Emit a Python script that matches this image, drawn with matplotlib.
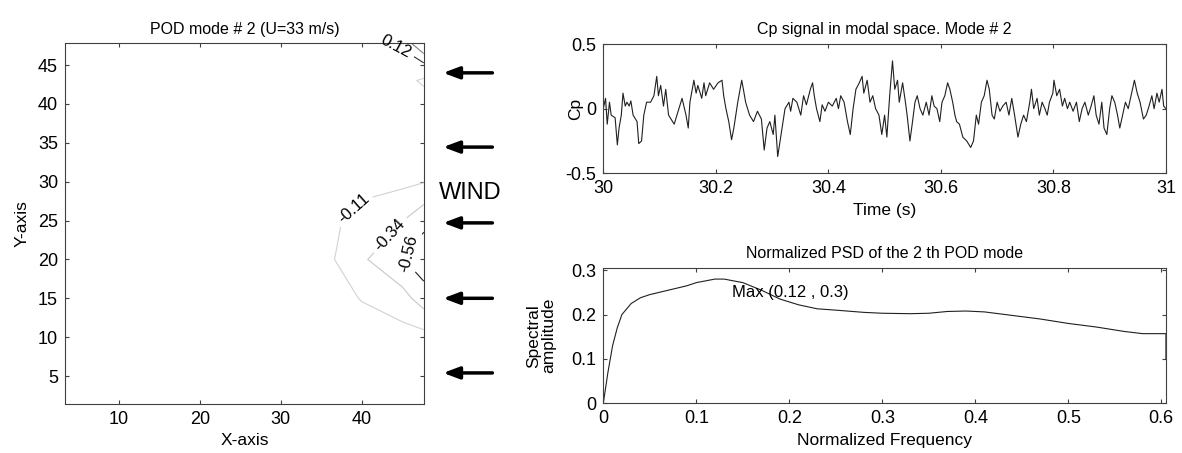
import matplotlib
matplotlib.use("Agg")
import matplotlib.pyplot as plt
import numpy as np

plt.rcParams["font.family"] = ["Liberation Sans", "DejaVu Sans"]
plt.rcParams["font.size"] = 12

# contour field of POD mode 2 (coarse grid)
grid_x = [3.4, 30, 35, 40, 45, 47.6]
grid_y = [1.44, 5, 10, 15, 20, 25, 30, 35, 40, 43, 45, 47.8]
mode_vals = [
    [0.0, 0.0, 0.0, 0.0, 0.0, 0.0],
    [0.0, 0.0, 0.0, 0.0, 0.0, 0.0],
    [0.0, 0.0, 0.0, -0.01, -0.02, -0.03],
    [0.0, 0.0, -0.01, -0.12, -0.25, -0.45],
    [0.0, 0.0, -0.02, -0.30, -0.55, -0.70],
    [0.0, 0.0, -0.02, -0.20, -0.33, -0.50],
    [0.0, 0.0, 0.0, -0.03, -0.06, -0.10],
    [0.0, 0.0, 0.0, 0.0, -0.01, -0.02],
    [0.0, 0.0, 0.0, 0.0, -0.01, -0.02],
    [0.0, 0.0, 0.0, 0.0, -0.05, -0.14],
    [0.0, 0.0, 0.0, 0.0, 0.0, 0.06],
    [0.0, 0.0, 0.0, 0.02, 0.16, 0.60],
]
levels = [-0.56, -0.335, -0.11, 0.115, 0.345]
level_colors = ["#202020", "#c8c8c8", "#d2d2d2", "#303030", "#808080"]
level_labels = {-0.56: "-0.56", -0.335: "-0.34", -0.11: "-0.11", 0.115: "0.12"}
label_pos = [(46.0, 20.5), (43.6, 23.0), (38.4, 27.1), (43.9, 46.9)]

arrow_y = [44.0, 34.45, 24.7, 15.0, 5.4]

# Cp signal, mode 2
t_off = [0.000, 0.004, 0.007, 0.011, 0.014, 0.021, 0.025, 0.028, 0.032, 0.035,
         0.039, 0.042, 0.046, 0.049, 0.053, 0.060, 0.063, 0.068, 0.072, 0.077,
         0.084, 0.090, 0.095, 0.098, 0.102, 0.107, 0.111, 0.116, 0.123, 0.126,
         0.133, 0.140, 0.147, 0.151, 0.154, 0.161, 0.165, 0.168, 0.175, 0.179,
         0.182, 0.189, 0.196, 0.204, 0.211, 0.214, 0.218, 0.223, 0.228, 0.232,
         0.239, 0.246, 0.249, 0.253, 0.260, 0.267, 0.274, 0.281, 0.286, 0.291,
         0.296, 0.302, 0.305, 0.310, 0.316, 0.323, 0.330, 0.333, 0.337, 0.344,
         0.351, 0.356, 0.361, 0.368, 0.372, 0.375, 0.379, 0.385, 0.389, 0.394,
         0.400, 0.407, 0.414, 0.418, 0.422, 0.428, 0.434, 0.439, 0.444, 0.449,
         0.455, 0.460, 0.463, 0.469, 0.474, 0.479, 0.484, 0.490, 0.495, 0.500,
         0.504, 0.509, 0.514, 0.518, 0.523, 0.526, 0.532, 0.537, 0.540, 0.545,
         0.549, 0.554, 0.558, 0.563, 0.568, 0.574, 0.579, 0.584, 0.588, 0.593,
         0.598, 0.602, 0.607, 0.612, 0.616, 0.621, 0.625, 0.628, 0.633, 0.639,
         0.646, 0.653, 0.658, 0.663, 0.667, 0.672, 0.677, 0.682, 0.686, 0.691,
         0.695, 0.700, 0.705, 0.710, 0.716, 0.721, 0.726, 0.731, 0.737, 0.742,
         0.747, 0.752, 0.758, 0.761, 0.765, 0.771, 0.775, 0.780, 0.785, 0.789,
         0.793, 0.799, 0.801, 0.806, 0.811, 0.816, 0.820, 0.825, 0.829, 0.835,
         0.841, 0.846, 0.851, 0.856, 0.862, 0.867, 0.872, 0.876, 0.881, 0.886,
         0.890, 0.895, 0.900, 0.904, 0.909, 0.914, 0.918, 0.923, 0.928, 0.933,
         0.939, 0.944, 0.949, 0.954, 0.960, 0.965, 0.970, 0.975, 0.979, 0.984,
         0.988, 0.993, 0.996, 1.000]
cp = [0.0, 0.08, -0.12, 0.05, -0.05, -0.07, -0.28, -0.15, -0.05, 0.12,
      0.02, 0.05, 0.02, 0.06, -0.05, -0.1, -0.27, -0.25, -0.05, 0.05,
      0.05, 0.1, 0.25, 0.1, 0.18, 0.02, 0.15, -0.05, -0.1, -0.12,
      -0.02, 0.08, -0.05, -0.15, 0.05, 0.22, 0.12, 0.18, 0.08, 0.2,
      0.1, 0.2, 0.15, 0.2, 0.22, 0.1, 0.0, -0.1, -0.24, -0.15,
      0.05, 0.22, 0.15, 0.05, -0.05, -0.1, -0.02, -0.08, -0.32, -0.15,
      -0.1, -0.2, -0.05, -0.37, -0.2, 0.0, 0.05, -0.02, 0.08, 0.05,
      -0.05, 0.1, 0.03, 0.15, 0.2, 0.1, 0.0, -0.1, 0.03, -0.02,
      0.05, 0.02, 0.08, 0.0, 0.1, 0.05, -0.1, -0.2, 0.0, 0.15,
      0.2, 0.25, 0.12, 0.22, 0.05, 0.1, 0.0, -0.05, -0.2, -0.05,
      -0.22, 0.1, 0.37, 0.15, 0.22, 0.05, 0.2, 0.05, -0.05, -0.25,
      -0.12, 0.05, 0.1, 0.0, -0.05, 0.05, -0.05, 0.1, 0.02, 0.0,
      -0.1, 0.05, 0.1, 0.2, 0.15, 0.05, -0.05, -0.1, -0.12, -0.22,
      -0.25, -0.3, -0.25, -0.05, -0.12, 0.05, 0.1, 0.22, 0.15, -0.05,
      -0.08, 0.05, -0.02, 0.02, 0.05, -0.05, 0.08, -0.05, -0.22, -0.12,
      -0.05, -0.1, 0.05, 0.15, 0.0, 0.08, -0.05, 0.05, 0.0, -0.05,
      0.05, 0.12, 0.22, 0.1, 0.15, 0.02, 0.08, 0.0, 0.05, -0.02,
      0.05, -0.1, 0.0, 0.05, -0.05, 0.02, 0.1, -0.05, -0.12, 0.05,
      -0.15, -0.2, 0.0, 0.1, 0.05, -0.05, -0.15, -0.05, 0.05, 0.0,
      0.12, 0.22, 0.12, 0.05, -0.08, -0.05, 0.02, 0.1, 0.0, 0.12,
      0.05, 0.15, 0.02, 0.0]

# normalized PSD
freq = [0.0, 0.005, 0.01, 0.015, 0.02, 0.03, 0.04, 0.05, 0.07, 0.09,
        0.10, 0.12, 0.13, 0.15, 0.17, 0.19, 0.21, 0.23, 0.25, 0.28,
        0.30, 0.33, 0.35, 0.37, 0.39, 0.41, 0.44, 0.47, 0.50, 0.53,
        0.56, 0.58, 0.60, 0.605, 0.605]
psd = [0.0, 0.07, 0.13, 0.17, 0.20, 0.225, 0.238, 0.245, 0.255, 0.265,
       0.272, 0.28, 0.28, 0.272, 0.255, 0.235, 0.222, 0.213, 0.21, 0.205,
       0.203, 0.202, 0.203, 0.207, 0.208, 0.206, 0.198, 0.19, 0.18, 0.172,
       0.162, 0.157, 0.157, 0.157, 0.10]

fig = plt.figure(figsize=(11.82, 4.53), dpi=100)
spine_col = "#404040"
tick_fs = 13
lab_fs = 12.5
title_fs = 11.5


def matlab_axes(ax):
    ax.tick_params(direction="in", top=True, right=True, labelsize=tick_fs,
                   length=3, color=spine_col, pad=5)
    for s in ax.spines.values():
        s.set_color(spine_col)


# left: contour
ax1 = fig.add_axes([0.055, 0.1088, 0.3035, 0.7956])
cs = ax1.contour(grid_x, grid_y, np.array(mode_vals), levels=levels,
                 colors=level_colors, linewidths=0.8)
labs = ax1.clabel(cs, levels=levels[:4], fmt=level_labels, fontsize=12,
                  colors="black", inline=True, manual=label_pos)
for lb in labs:
    lb.set_clip_on(False)
ax1.set_xlim(3.4, 47.6)
ax1.set_ylim(1.44, 47.8)
ax1.set_xticks([10, 20, 30, 40])
ax1.set_yticks([5, 10, 15, 20, 25, 30, 35, 40, 45])
ax1.set_xlabel("X-axis", fontsize=lab_fs, labelpad=4)
ax1.set_ylabel("Y-axis", fontsize=lab_fs)
ax1.yaxis.set_label_coords(-0.1, 0.5)
ax1.set_title("POD mode # 2 (U=33 m/s)", fontsize=title_fs, pad=7)
matlab_axes(ax1)

for ay in arrow_y:
    ax1.annotate("", xy=(49.65, ay), xytext=(56.4, ay),
                 arrowprops=dict(arrowstyle="-|>,head_length=0.8,head_width=0.3",
                                 color="black", lw=2.5),
                 annotation_clip=False)
ax1.text(49.5, 28.5, "WIND", fontsize=17, va="center", ha="left",
         clip_on=False)

# top right: time signal
ax2 = fig.add_axes([0.5104, 0.6174, 0.476, 0.2854])
ax2.plot(30 + np.array(t_off), cp, color="#202020", lw=0.8)
ax2.set_xlim(30, 31)
ax2.set_ylim(-0.5, 0.5)
ax2.set_xticks([30, 30.2, 30.4, 30.6, 30.8, 31])
ax2.set_xticklabels(["30", "30.2", "30.4", "30.6", "30.8", "31"])
ax2.set_yticks([-0.5, 0, 0.5])
ax2.set_yticklabels(["-0.5", "0", "0.5"])
ax2.set_xlabel("Time (s)", fontsize=lab_fs, labelpad=4)
ax2.set_ylabel("Cp", fontsize=lab_fs)
ax2.yaxis.set_label_coords(-0.036, 0.5)
ax2.set_title("Cp signal in modal space. Mode # 2", fontsize=title_fs, pad=7)
matlab_axes(ax2)

# bottom right: PSD
ax3 = fig.add_axes([0.5104, 0.1097, 0.476, 0.2987])
ax3.plot(freq, psd, color="#202020", lw=0.8)
ax3.set_xlim(0, 0.605)
ax3.set_ylim(0, 0.305)
ax3.set_xticks([0, 0.1, 0.2, 0.3, 0.4, 0.5, 0.6])
ax3.set_xticklabels(["0", "0.1", "0.2", "0.3", "0.4", "0.5", "0.6"])
ax3.set_yticks([0, 0.1, 0.2, 0.3])
ax3.set_yticklabels(["0", "0.1", "0.2", "0.3"])
ax3.set_xlabel("Normalized Frequency", fontsize=lab_fs, labelpad=4)
ax3.set_ylabel("Spectral\namplitude", fontsize=lab_fs, linespacing=1.0)
ax3.yaxis.set_label_coords(-0.083, 0.5)
ax3.set_title("Normalized PSD of the 2 th POD mode", fontsize=title_fs, pad=7)
ax3.text(0.138, 0.25, "Max (0.12 , 0.3)", fontsize=12, va="center")
matlab_axes(ax3)

fig.savefig("out.png", dpi=100)
